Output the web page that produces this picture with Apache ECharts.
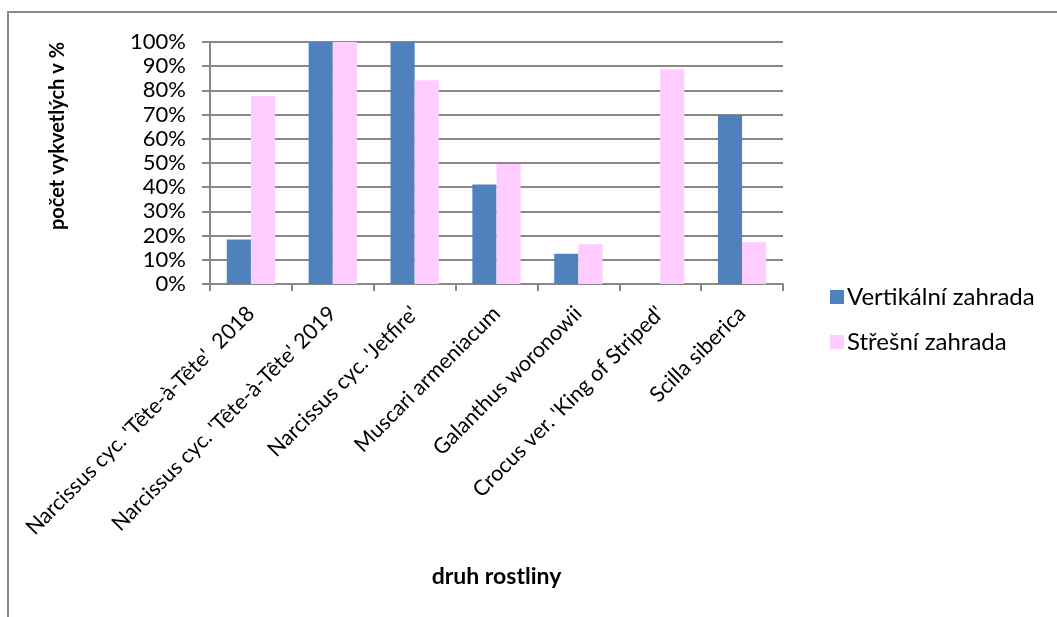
<!DOCTYPE html>
<html>
<head>
<meta charset="utf-8">
<script src="https://cdn.jsdelivr.net/npm/echarts@6/dist/echarts.min.js"></script>
<style>
  html, body { margin: 0; padding: 0; background: #ffffff; }
  #chart { width: 1057px; height: 617px; }
</style>
</head>
<body>
<div id="chart"></div>
<script>
// Plant species (categories on the x axis)
const categories = [
  "Narcissus cyc. 'Tête-à-Tête'  2018",
  "Narcissus cyc. 'Tête-à-Tête' 2019",
  "Narcissus cyc. 'Jetfire'",
  "Muscari armeniacum",
  "Galanthus woronowii",
  "Crocus ver. 'King of Striped'",
  "Scilla siberica"
];

// Share of flowering plants, percent
const vertikalni = [18.4, 100, 100, 41.1, 12.5, 0, 69.8];
const stresni = [77.7, 100, 84.2, 49.6, 16.4, 88.7, 17.3];

const seriesNames = ['Vertikální zahrada', 'Střešní zahrada'];
const yTicks = [0, 10, 20, 30, 40, 50, 60, 70, 80, 90, 100];
const yTitle = 'počet vykvetlých v %';
const xTitle = 'druh rostliny';

const FONT = 'Lato, "Open Sans", sans-serif';
const GRID = '#888888';

const chart = echarts.init(document.getElementById('chart'), null, { renderer: 'canvas' });

chart.setOption({
  animation: false,
  backgroundColor: '#ffffff',
  textStyle: { fontFamily: FONT, color: '#000000' },
  grid: { left: 210, right: 274, top: 42, bottom: 333, containLabel: false },
  legend: {
    orient: 'vertical',
    left: 825,
    top: 280,
    itemWidth: 14,
    itemHeight: 14,
    itemGap: 21,
    icon: 'rect',
    textStyle: { fontFamily: FONT, fontSize: 24, color: '#000000', padding: [0, 0, 0, -2] },
    data: seriesNames
  },
  xAxis: {
    type: 'category',
    data: categories,
    name: xTitle,
    nameLocation: 'middle',
    nameGap: 281,
    nameTextStyle: { fontFamily: FONT, fontSize: 23, fontWeight: 'bold', color: '#000000' },
    axisLine: { show: true, lineStyle: { color: GRID, width: 2 } },
    axisTick: { show: true, length: 7, lineStyle: { color: GRID, width: 2 } },
    axisLabel: {
      rotate: 45,
      interval: 0,
      margin: 26,
      fontFamily: FONT,
      fontSize: 21.5,
      color: '#000000'
    }
  },
  yAxis: {
    type: 'value',
    min: yTicks[0],
    max: yTicks[yTicks.length - 1],
    interval: 10,
    axisLine: { show: true, lineStyle: { color: GRID, width: 2 } },
    axisTick: { show: true, length: 8, inside: false, lineStyle: { color: GRID, width: 2 } },
    splitLine: { show: true, lineStyle: { color: GRID, width: 2 } },
    axisLabel: {
      margin: 24,
      fontFamily: FONT,
      fontSize: 22,
      color: '#000000',
      formatter: v => v + '%'
    }
  },
  series: [
    {
      name: seriesNames[0],
      type: 'bar',
      data: vertikalni,
      barGap: '0%',
      barCategoryGap: '41%',
      itemStyle: { color: '#4F81BD' }
    },
    {
      name: seriesNames[1],
      type: 'bar',
      data: stresni,
      itemStyle: { color: '#FFCCFF' }
    }
  ],
  graphic: [
    // chart frame (top and left edges)
    {
      type: 'polyline',
      silent: true,
      shape: { points: [[8, 617], [8, 12], [1057, 12]] },
      style: { stroke: GRID, lineWidth: 2, fill: null }
    },
    // value axis title, rotated
    {
      type: 'text',
      silent: true,
      x: 58,
      y: 136,
      rotation: Math.PI / 2,
      style: {
        text: yTitle,
        fontFamily: FONT,
        fontSize: 20,
        fontWeight: 'bold',
        fill: '#000000',
        align: 'center',
        verticalAlign: 'middle'
      }
    }
  ]
});
</script>
</body>
</html>
